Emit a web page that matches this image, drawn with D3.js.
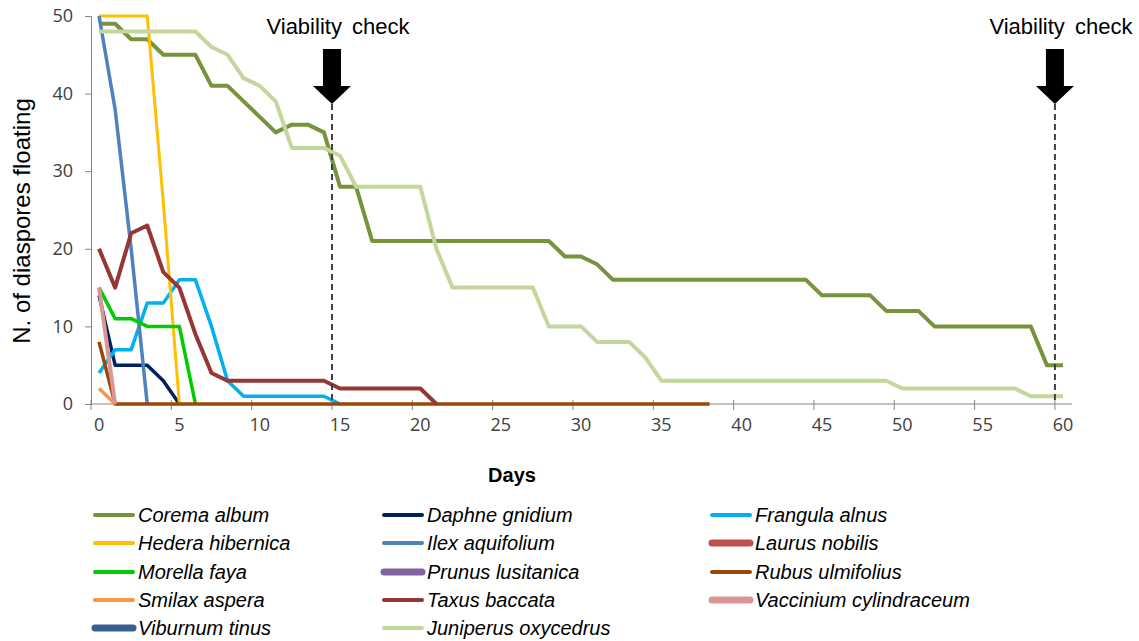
<!DOCTYPE html>
<html>
<head>
<meta charset="utf-8">
<script src="https://cdn.jsdelivr.net/npm/d3@7"></script>
<style>
  body { margin: 0; background: #fff; }
  svg { display: block; }
</style>
</head>
<body>
<div id="chart"></div>
<script>
// values per day, starting at day 0
var species = ["Corema album", "Daphne gnidium", "Frangula alnus", "Hedera hibernica",
  "Ilex aquifolium", "Laurus nobilis", "Morella faya", "Prunus lusitanica",
  "Rubus ulmifolius", "Smilax aspera", "Taxus baccata", "Vaccinium cylindraceum",
  "Viburnum tinus", "Juniperus oxycedrus"];

var corema = [49,49,47,47,45,45,45,41,41,39,37,35,36,36,35,28,28,
  21,21,21,21,21,21,21,21,21,21,21,21,19,19,18,
  16,16,16,16,16,16,16,16,16,16,16,16,16,14,14,14,14,12,12,12,
  10,10,10,10,10,10,10,5,5];
var daphne = [14,5,5,5,3,0];
var frangula = [4,7,7,13,13,16,16,10,3,1,1,1,1,1,1,0];
var hedera = [50,50,50,50,26,0];
var ilex = [50,38,20,0];
var laurus = [];
var morella = [15,11,11,10,10,10,0];
var prunus = [];
var rubus = [8,0,0,0,0,0,0,0,0,0,0,0,0,0,0,0,0,0,0,0,0,0,0,0,0,0,0,0,0,0,0,0,0,0,0,0,0,0,0];
var smilax = [2,0];
var taxus = [20,15,22,23,17,15,9,4,3,3,3,3,3,3,3,2,2,2,2,2,2,0];
var vaccinium = [15,0];
var viburnum = [];
var juniperus = [48,48,48,48,48,48,48,46,45,42,41,39,33,33,33,32,28,28,28,28,28,
  20,15,15,15,15,15,15,10,10,10,8,8,8,6,
  3,3,3,3,3,3,3,3,3,3,3,3,3,3,3,2,2,2,2,2,2,2,2,1,1,1];

var seriesValues = [corema, daphne, frangula, hedera, ilex, laurus, morella, prunus,
  rubus, smilax, taxus, vaccinium, viburnum, juniperus];

var colors = ["#77933C", "#002060", "#00B0F0", "#FFC000", "#4F81BD", "#C0504D", "#00CC00",
  "#8064A2", "#984807", "#F79646", "#953735", "#D99694", "#376092", "#C3D69B"];
var widths = [4, 3.5, 3.5, 3, 3.5, 6, 3.5, 6, 3.5, 3.5, 4, 4, 6, 4];
var thickLegend = [false, false, false, false, false, true, false, true, false, false, false, true, true, false];

var days = d3.range(61);
var xTickLabels = [0, 5, 10, 15, 20, 25, 30, 35, 40, 45, 50, 55, 60];
var yTickLabels = [0, 10, 20, 30, 40, 50];
var checkDays = [15, 60];

var width = 1139, height = 641;
var plotLeft = 91, plotRight = 1071, plotTop = 16, plotBottom = 404;

var svg = d3.select("#chart").append("svg")
    .attr("width", width)
    .attr("height", height);

var x = d3.scaleBand().domain(days).range([plotLeft, plotRight]).padding(0);
var y = d3.scaleLinear().domain([0, 50]).range([plotBottom, plotTop]);
var cx = function(d) { return x(d) + x.bandwidth() / 2; };

// y axis
var yAxis = svg.append("g")
    .attr("transform", "translate(" + plotLeft + ",0)")
    .call(d3.axisLeft(y).tickValues(yTickLabels).tickSize(6).tickPadding(12));
yAxis.select(".domain").attr("stroke", "#868686");
yAxis.selectAll(".tick line").attr("stroke", "#868686");
yAxis.selectAll("text")
    .style("font-family", "'Open Sans', sans-serif")
    .style("font-size", "18px")
    .attr("fill", "#404040");

// x axis: labels centred on days, tick marks on the category edges
var xAxis = svg.append("g")
    .attr("transform", "translate(0," + plotBottom + ")")
    .call(d3.axisBottom(x).tickValues(xTickLabels).tickSize(0).tickPadding(14));
xAxis.select(".domain").attr("stroke", "#868686").attr("d", "M" + plotLeft + ",0H" + (plotRight + 1));
xAxis.selectAll("text")
    .style("font-family", "'Open Sans', sans-serif")
    .style("font-size", "18px")
    .attr("fill", "#404040");

svg.append("g").selectAll("line")
    .data(xTickLabels)
    .enter().append("line")
    .attr("x1", function(d) { return x(d); })
    .attr("x2", function(d) { return x(d); })
    .attr("y1", plotBottom - 4)
    .attr("y2", plotBottom + 6)
    .attr("stroke", "#868686");

// series lines
var line = d3.line()
    .x(function(d, i) { return cx(i); })
    .y(function(d) { return y(d); });

svg.append("g").selectAll("path")
    .data(seriesValues)
    .enter().append("path")
    .attr("d", function(d) { return d.length ? line(d) : null; })
    .attr("fill", "none")
    .attr("stroke", function(d, i) { return colors[i]; })
    .attr("stroke-width", function(d, i) { return widths[i]; })
    .attr("stroke-linejoin", "round");

// viability checks
var check = svg.append("g").selectAll("g")
    .data(checkDays)
    .enter().append("g");

check.append("line")
    .attr("x1", function(d) { return x(d); })
    .attr("x2", function(d) { return x(d); })
    .attr("y1", 104)
    .attr("y2", plotBottom)
    .attr("stroke", "#404040")
    .attr("stroke-width", 2)
    .attr("stroke-dasharray", "6,4");

check.append("path")
    .attr("d", function(d) {
        var t = x(d);
        return "M" + (t - 9) + ",49H" + (t + 9) + "V86H" + (t + 19) +
            "L" + t + ",104L" + (t - 19) + ",86H" + (t - 9) + "Z";
    })
    .attr("fill", "#000");

check.append("text")
    .attr("x", function(d) { return x(d) + 6; })
    .attr("y", 34)
    .attr("text-anchor", "middle")
    .style("font-family", "'Liberation Sans', Arial, sans-serif")
    .style("font-size", "22px")
    .style("word-spacing", "4px")
    .text("Viability check");

// axis titles
svg.append("text")
    .attr("x", 512)
    .attr("y", 482)
    .attr("text-anchor", "middle")
    .style("font-family", "'Liberation Sans', Arial, sans-serif")
    .style("font-size", "20px")
    .style("font-weight", "bold")
    .text("Days");

svg.append("text")
    .attr("transform", "translate(30,221) rotate(-90)")
    .attr("text-anchor", "middle")
    .style("font-family", "'Liberation Sans', Arial, sans-serif")
    .style("font-size", "24px")
    .text("N. of diaspores floating");

// legend
var legCols = [93, 382, 710];
var legRows = [515, 543, 572, 600, 628];

var leg = svg.append("g").selectAll("g")
    .data(species)
    .enter().append("g")
    .attr("transform", function(d, i) {
        return "translate(" + legCols[i % 3] + "," + legRows[Math.floor(i / 3)] + ")";
    });

leg.append("line")
    .attr("x1", 2).attr("x2", 40)
    .attr("y1", 0).attr("y2", 0)
    .attr("stroke", function(d, i) { return colors[i]; })
    .attr("stroke-width", function(d, i) { return thickLegend[i] ? 7 : 4; })
    .attr("stroke-linecap", "round");

leg.append("text")
    .attr("x", 45)
    .attr("y", 7)
    .style("font-family", "'Liberation Sans', Arial, sans-serif")
    .style("font-size", "20px")
    .style("font-style", "italic")
    .text(function(d) { return d; });
</script>
</body>
</html>
